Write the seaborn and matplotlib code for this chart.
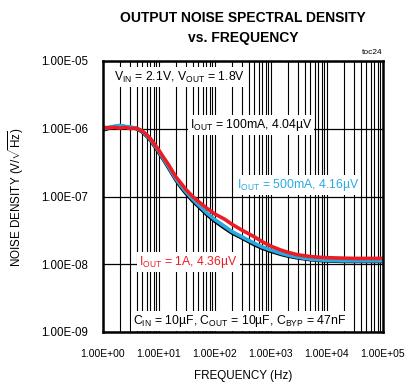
import matplotlib
matplotlib.use("Agg")
import matplotlib.pyplot as plt
from matplotlib import font_manager
from matplotlib.ticker import LogLocator, FuncFormatter, NullLocator
import seaborn as sns
import pandas as pd

# ---------------- data ----------------
freq = [1, 1.3, 1.6, 2, 2.5, 3, 4, 5, 6, 7, 8, 10, 12, 15, 20, 25, 30, 40, 50,
        70, 100, 150, 200, 300, 500, 700, 1000, 1500, 2000, 3000, 5000, 7000,
        1e4, 2e4, 3e4, 5e4, 1e5]

noise_100mA = [9.6e-7, 1.02e-6, 1.06e-6, 1.10e-6, 1.07e-6, 1.05e-6, 1.00e-6, 9.0e-7,
               7.8e-7, 6.8e-7, 5.8e-7, 4.4e-7, 3.5e-7, 2.6e-7, 1.75e-7, 1.35e-7,
               1.12e-7, 8.6e-8, 7.2e-8, 5.5e-8, 4.3e-8, 3.4e-8, 2.9e-8, 2.45e-8,
               1.95e-8, 1.72e-8, 1.55e-8, 1.40e-8, 1.32e-8, 1.24e-8, 1.17e-8,
               1.14e-8, 1.12e-8, 1.10e-8, 1.10e-8, 1.10e-8, 1.10e-8]

noise_500mA = [9.9e-7, 1.06e-6, 1.09e-6, 1.12e-6, 1.08e-6, 1.07e-6, 1.01e-6, 9.2e-7,
               8.0e-7, 7.0e-7, 6.0e-7, 4.6e-7, 3.6e-7, 2.7e-7, 1.82e-7, 1.42e-7,
               1.18e-7, 9.1e-8, 7.6e-8, 5.8e-8, 4.55e-8, 3.6e-8, 3.05e-8, 2.55e-8,
               2.05e-8, 1.8e-8, 1.62e-8, 1.45e-8, 1.36e-8, 1.27e-8, 1.19e-8,
               1.16e-8, 1.14e-8, 1.12e-8, 1.12e-8, 1.12e-8, 1.12e-8]

noise_1A = [1.05e-6, 1.03e-6, 1.05e-6, 1.02e-6, 1.05e-6, 1.01e-6, 1.02e-6, 9.3e-7,
            8.2e-7, 7.2e-7, 6.2e-7, 4.8e-7, 3.8e-7, 2.9e-7, 1.95e-7, 1.55e-7,
            1.28e-7, 1.0e-7, 8.5e-8, 6.8e-8, 5.5e-8, 4.6e-8, 3.9e-8, 3.2e-8,
            2.55e-8, 2.15e-8, 1.85e-8, 1.62e-8, 1.5e-8, 1.38e-8, 1.3e-8,
            1.27e-8, 1.25e-8, 1.23e-8, 1.22e-8, 1.22e-8, 1.22e-8]

series_names = ["100mA", "500mA", "1A"]
series_colors = ["#000000", "#27aae1", "#ed1c24"]

x_ticks = [1e0, 1e1, 1e2, 1e3, 1e4, 1e5]
y_ticks = [1e-9, 1e-8, 1e-7, 1e-6, 1e-5]

# ---------------- build table ----------------
df = pd.concat([
    pd.DataFrame({"freq": freq, "noise": noise_100mA, "load": "100mA"}),
    pd.DataFrame({"freq": freq, "noise": noise_500mA, "load": "500mA"}),
    pd.DataFrame({"freq": freq, "noise": noise_1A, "load": "1A"}),
], ignore_index=True)

# ---------------- style ----------------
sns.set_style("white")
names = {f.name for f in font_manager.fontManager.ttflist}
plt.rcParams["font.family"] = ["Liberation Sans", "DejaVu Sans"]
plt.rcParams["text.color"] = "black"
plt.rcParams["axes.labelcolor"] = "black"
plt.rcParams["xtick.color"] = "black"
plt.rcParams["ytick.color"] = "black"
plt.rcParams["mathtext.fontset"] = "custom"
plt.rcParams["mathtext.rm"] = "Liberation Sans"
plt.rcParams["mathtext.it"] = "Liberation Sans:italic"
plt.rcParams["mathtext.bf"] = "Liberation Sans:bold"
plt.rcParams["mathtext.default"] = "regular"

if "Liberation Sans Narrow" in names:
    title_family, title_size = ["Liberation Sans Narrow", "Liberation Sans"], 12
else:
    title_family, title_size = ["Liberation Sans", "DejaVu Sans"], 10

fig = plt.figure(figsize=(4.15, 3.86), dpi=100)
ax = fig.add_axes([103 / 415, 1 - 332 / 386, 280 / 415, 271 / 386])

sns.lineplot(data=df, x="freq", y="noise", hue="load", hue_order=series_names,
             palette=series_colors, linewidth=2.6, legend=False, ax=ax,
             estimator=None, sort=False)

ax.set_xscale("log")
ax.set_yscale("log")
ax.set_xlim(x_ticks[0], x_ticks[-1])
ax.set_ylim(y_ticks[0], y_ticks[-1])
ax.set_xticks(x_ticks)
ax.set_yticks(y_ticks)
ax.xaxis.set_minor_locator(LogLocator(base=10, subs=range(2, 10), numticks=20))
ax.yaxis.set_minor_locator(NullLocator())
fmt = FuncFormatter(lambda v, p: f"{v:.2E}")
ax.xaxis.set_major_formatter(fmt)
ax.yaxis.set_major_formatter(fmt)
ax.tick_params(axis="both", which="both", length=0)
ax.tick_params(axis="y", labelsize=8.3, pad=11, colors="black")
ax.tick_params(axis="x", labelsize=7.5, pad=12, colors="black")

ax.grid(which="both", axis="x", color="black", linewidth=0.8)
ax.grid(which="major", axis="y", color="black", linewidth=0.9)
ax.set_axisbelow(True)
for s in ax.spines.values():
    s.set_visible(True)
    s.set_color("black")
    s.set_linewidth(1.8)

ax.set_xlabel("FREQUENCY (Hz)", fontsize=8.4, color="black")
ax.set_ylabel(r"NOISE DENSITY (V/$\sqrt{Hz}$)", fontsize=8.4, color="black")
ax.xaxis.set_label_coords(0.5, -0.142)
ax.yaxis.set_label_coords(-0.275, 0.5)

box = dict(facecolor="white", edgecolor="none", pad=1.5)
ann = dict(transform=ax.transAxes, ha="center", va="center", fontsize=8.8, bbox=box, zorder=5)
ax.text(0.275, 0.941, r"$V_{IN}$ = 2.1V, $V_{OUT}$ = 1.8V", color="black", **ann)
ax.text(0.529, 0.764, r"$I_{OUT}$ = 100mA, 4.04µV", color="black", **ann)
ax.text(0.696, 0.542, r"$I_{OUT}$ = 500mA, 4.16µV", color="#29abe2", **ann)
ax.text(0.304, 0.258, r"$I_{OUT}$ = 1A, 4.36µV", color="#ed1c24", **ann)
ax.text(0.489, 0.041, r"$C_{IN}$ = 10µF, $C_{OUT}$ = 10µF, $C_{BYP}$ = 47nF", color="black", **ann)

fig.text(243 / 415, 1 - 18 / 386, "OUTPUT NOISE SPECTRAL DENSITY", ha="center", va="center",
         fontsize=title_size, fontweight="bold", family=title_family, color="black")
fig.text(243 / 415, 1 - 38 / 386, "vs. FREQUENCY", ha="center", va="center",
         fontsize=title_size, fontweight="bold", family=title_family, color="black")
fig.text(383 / 415, 1 - 52 / 386, "toc24", ha="right", va="center", fontsize=6, color="black")

fig.savefig("out.png", dpi=100)
